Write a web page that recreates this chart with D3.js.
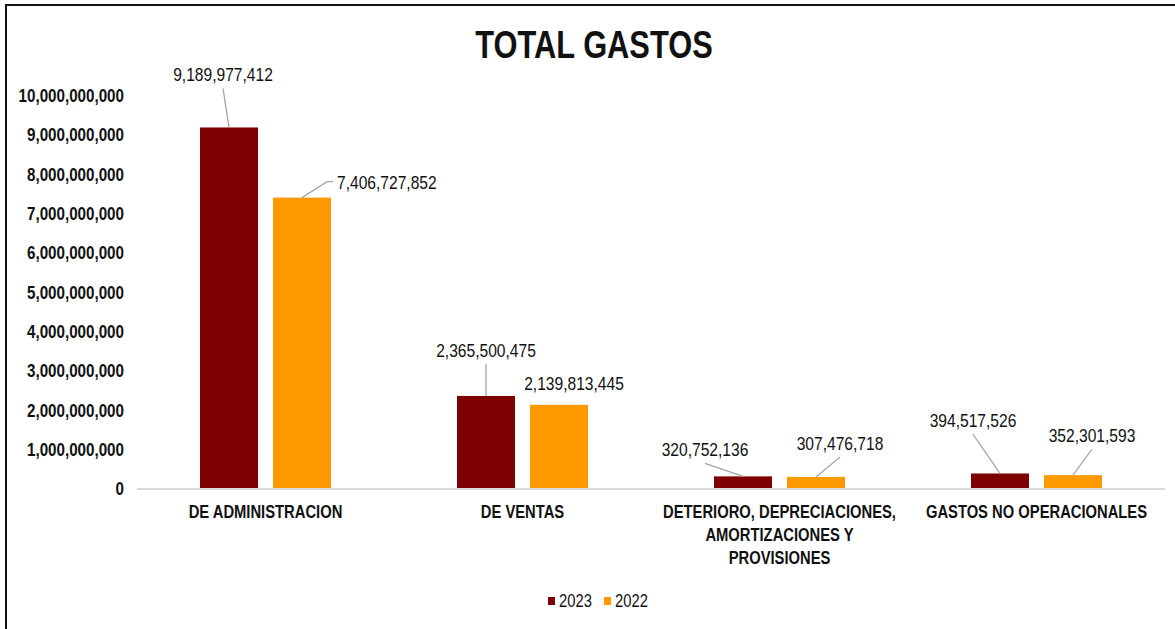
<!DOCTYPE html>
<html>
<head>
<meta charset="utf-8">
<script src="https://cdn.jsdelivr.net/npm/d3@7"></script>
<style>
  body { margin: 0; background: #fff; }
  svg text { font-family: "Liberation Sans Narrow", "Arial Narrow", "Liberation Sans", Arial, sans-serif; }
</style>
</head>
<body>
<svg id="chart"></svg>
<script>
const categories = [
  ["DE ADMINISTRACION"],
  ["DE VENTAS"],
  ["DETERIORO, DEPRECIACIONES,", "AMORTIZACIONES Y", "PROVISIONES"],
  ["GASTOS NO OPERACIONALES"]
];
const series = ["2023", "2022"];
const values2023 = [9189977412, 2365500475, 320752136, 394517526];
const values2022 = [7406727852, 2139813445, 307476718, 352301593];
const yTicks = [0, 1e9, 2e9, 3e9, 4e9, 5e9, 6e9, 7e9, 8e9, 9e9, 1e10];
const colors = ["#7f0000", "#ff9900"];

// label offsets relative to bar top centre [dx, dy, anchor, leader?]
const labelPos = [
  [[-6, -46, "middle", true], [35, -16, "start", "elbow"]],
  [[0, -39, "middle", true], [15, -15, "middle", false]],
  [[-38, -20, "middle", true], [24, -27, "middle", true]],
  [[-27, -46, "middle", true], [19, -33, "middle", true]]
];

const W = 1175, H = 629;
const svg = d3.select("#chart").attr("width", W).attr("height", H);

// squeeze text horizontally, the reference uses a narrow face
function narrow(sel, k) {
  sel.each(function () {
    const len = this.getComputedTextLength();
    d3.select(this).attr("textLength", len * k).attr("lengthAdjust", "spacingAndGlyphs");
  });
}

// frame
svg.append("rect").attr("x", 6).attr("y", 5).attr("width", W + 20).attr("height", H + 20)
  .attr("fill", "none").attr("stroke", "#111").attr("stroke-width", 2);

svg.append("text").attr("x", 594).attr("y", 58).attr("text-anchor", "middle")
  .attr("font-size", 39).attr("font-weight", "bold").attr("fill", "#111").text("TOTAL GASTOS")
  .call(narrow, 0.79);

const x = d3.scaleBand().domain(d3.range(categories.length)).range([137, 1165]);
const y = d3.scaleLinear().domain([0, 1e10]).range([489, 95.6]);

// y axis labels
const yAxis = svg.append("g").attr("transform", "translate(124,0)")
  .call(d3.axisLeft(y).tickValues(yTicks).tickFormat(d3.format(",")).tickSize(0).tickPadding(0));
yAxis.select(".domain").remove();
yAxis.selectAll("text").attr("font-size", 18.5).attr("font-weight", "bold").attr("fill", "#111")
  .attr("font-family", null).call(narrow, 0.82);

const barW = 58, gap = 15;
const data = [];
categories.forEach((c, i) => {
  [values2023[i], values2022[i]].forEach((v, s) => {
    const cx = x(i) + x.bandwidth() / 2 + (s === 0 ? -(gap / 2 + barW / 2) : (gap / 2 + barW / 2));
    data.push({ i, s, v, cx });
  });
});

svg.append("g").selectAll("rect").data(data).join("rect")
  .attr("x", d => d.cx - barW / 2).attr("width", barW)
  .attr("y", d => y(d.v)).attr("height", d => y(0) - y(d.v))
  .attr("fill", d => colors[d.s]);

// x axis line
svg.append("line").attr("x1", 137).attr("x2", 1165).attr("y1", 489).attr("y2", 489)
  .attr("stroke", "#d9d9d9").attr("stroke-width", 2);

// category labels
const cat = svg.append("g").selectAll("text").data(categories).join("text")
  .attr("x", (d, i) => x(i) + x.bandwidth() / 2).attr("y", 518)
  .attr("text-anchor", "middle").attr("font-size", 18).attr("font-weight", "bold").attr("fill", "#111");
cat.selectAll("tspan").data(d => d).join("tspan")
  .attr("x", function () { return this.parentNode.getAttribute("x"); })
  .attr("dy", (d, j) => j === 0 ? 0 : 23).text(d => d)
  .call(narrow, 0.82);

// data labels with leader lines
const fmt = d3.format(",");
const lbl = svg.append("g");
data.forEach(d => {
  const [dx, dy, anchor, leader] = labelPos[d.i][d.s];
  const bx = d.cx, by = y(d.v);
  const lx = bx + dx, ly = by + dy;
  let t;
  if (leader === true) {
    lbl.append("line").attr("x1", bx).attr("y1", by).attr("x2", lx).attr("y2", ly + 7)
      .attr("stroke", "#a6a6a6").attr("stroke-width", 1.3);
    t = lbl.append("text").attr("x", lx).attr("y", ly);
  } else if (leader === "elbow") {
    lbl.append("polyline").attr("points", [[bx, by], [bx + 25, ly], [bx + 31, ly]].map(p => p.join(",")).join(" "))
      .attr("fill", "none").attr("stroke", "#a6a6a6").attr("stroke-width", 1.3);
    t = lbl.append("text").attr("x", lx).attr("y", ly + 7);
  } else {
    t = lbl.append("text").attr("x", lx).attr("y", ly);
  }
  t.attr("text-anchor", anchor).attr("font-size", 19).attr("fill", "#111").text(fmt(d.v))
    .call(narrow, 0.82);
});

// legend
const legend = svg.append("g").selectAll("g").data(series).join("g")
  .attr("transform", (d, i) => `translate(${548 + i * 56},597)`);
legend.append("rect").attr("width", 7).attr("height", 8).attr("fill", (d, i) => colors[i]);
legend.append("text").attr("x", 11).attr("y", 10).attr("font-size", 18).attr("fill", "#111").text(d => d)
  .call(narrow, 0.82);
</script>
</body>
</html>
